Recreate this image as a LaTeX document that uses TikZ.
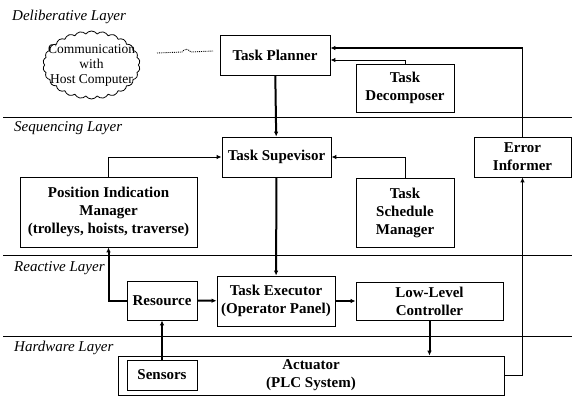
\documentclass[tikz,border=0pt]{standalone}
\usepackage{fontspec}
\setmainfont{Liberation Serif}
\usetikzlibrary{calc,arrows.meta,shapes.symbols}
\tikzset{
	blk/.style={draw, line width=0.8pt, align=center, inner sep=0pt, font=\bfseries\fontsize{15}{18}\selectfont},
	layerline/.style={line width=0.8pt},
	layername/.style={anchor=west, inner sep=0pt, font=\itshape\fontsize{15}{18}\selectfont},
	fat/.style={line width=2pt, -{Latex[length=5pt,width=4.5pt]}},
	slim/.style={line width=1pt, -{Latex[length=5pt,width=4.5pt]}}
}

\begin{document}
\begin{tikzpicture}[x=1pt, y=-1pt]
			%%%%% START %%%%%
			\useasboundingbox (0, 0) rectangle (574, 399);
			
			\draw[layerline] (3, 117) -- (572, 117);
			\draw[layerline] (3, 255) -- (572, 255);
			\draw[layerline] (3, 336) -- (572, 336);
			
			\node[layername] (lay1) at (12, 17) {Deliberative Layer};
			\node[layername] (lay2) at (14, 128) {Sequencing Layer};
			\node[layername] (lay3) at (14, 268) {Reactive Layer};
			\node[layername] (lay4) at (14, 348) {Hardware Layer};
			
			\node[cloud, draw, line width=0.8pt, cloud puffs=26, cloud puff arc=110, aspect=1.4, minimum width=97pt, minimum height=68pt, inner sep=0pt] (host) at (91.5, 65) {};
			\node[align=center, inner sep=0pt, font=\fontsize{13.5}{15}\selectfont] (hosttxt) at (91.5, 65) {Communication\\with\\Host Computer};
			
			\node[blk, minimum width=110pt, minimum height=40pt] (planner) at (275, 55) {Task Planner};
			\node[blk, minimum width=98pt, minimum height=48pt] (decomp) at (405, 88) {Task\\Decomposer};
			\node[blk, minimum width=109pt, minimum height=40pt] (superv) at (276.5, 157) {Task Supevisor};
			\node[blk, minimum width=97pt, minimum height=40pt] (errinf) at (522.5, 157) {Error\\Informer};
			\node[blk, minimum width=177pt, minimum height=70pt] (posman) at (108.5, 212) {Position Indication\\Manager\\(trolleys, hoists, traverse)};
			\node[blk, minimum width=98pt, minimum height=69pt] (schedman) at (405, 212.5) {Task\\Schedule\\Manager};
			\node[blk, minimum width=70pt, minimum height=39pt] (resrc) at (162, 300.5) {Resource};
			\node[blk, minimum width=118pt, minimum height=50pt] (exec) at (276, 301) {Task Executor\\(Operator Panel)};
			\node[blk, minimum width=147pt, minimum height=38pt] (llc) at (429.5, 301) {Low-Level\\Controller};
			\node[blk, minimum width=386pt, minimum height=39pt] (actu) at (311, 375.5) {Actuator\\(PLC System)};
			\node[blk, minimum width=70pt, minimum height=30pt] (sens) at (162, 375) {Sensors};
			
			\coordinate (linkl) at (157, 53);
			\coordinate (linkr) at (213, 51);
			\draw[densely dotted, line width=0.9pt] (linkl) -- ++(25, -1) .. controls +(3, -4) and +(-3, -3) .. ++(9, 0) -- (linkr);
			
			\coordinate (errtop) at ($(errinf.north |- planner.east)+(0, -7)$);
			\draw[fat] (planner) -- (superv);
			\draw[fat] (superv) -- (exec);
			\draw[slim] (decomp.north) |- ($(planner.east)+(0, 5)$);
			\draw[line width=1pt] (errinf.north) -- (errtop);
			\draw[fat] (errtop) -- ($(planner.east)+(0, -7)$);
			\draw[slim] (posman.north) |- (superv.west);
			\draw[slim] (schedman.north) |- (superv.east);
			\draw[fat] (resrc.west) -| (posman.south);
			\draw[fat] (sens.north) -- (resrc.south);
			\draw[fat] (resrc) -- (exec);
			\draw[fat] (exec) -- (llc);
			\draw[fat] (llc.south) -- (llc.south |- actu.north);
			\draw[slim] (actu.east) -| (errinf.south);
			
			%%%%% END %%%%%
\end{tikzpicture}
\end{document}
